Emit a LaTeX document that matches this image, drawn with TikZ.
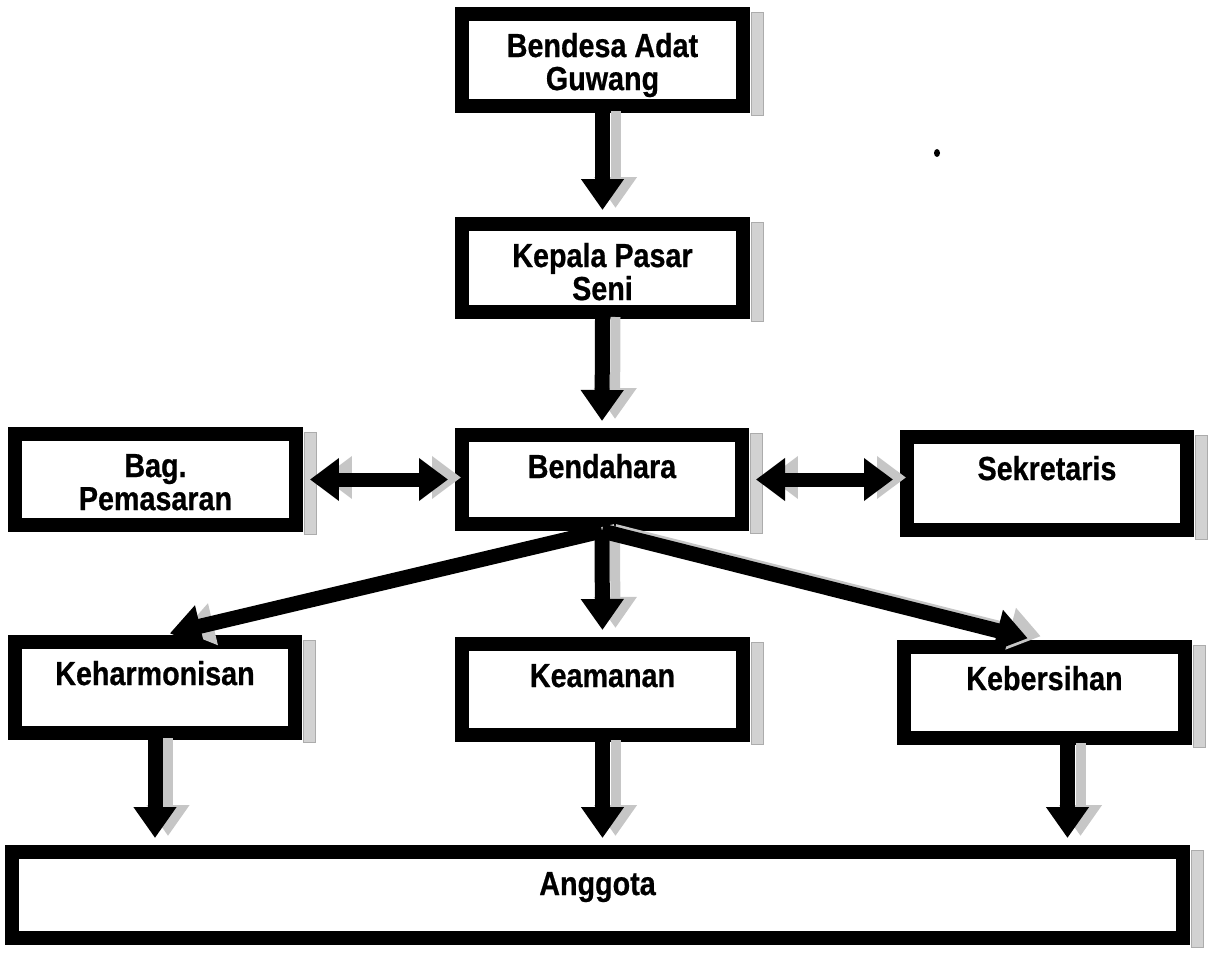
\documentclass[tikz,border=0pt]{standalone}
\usepackage{fontspec}
\setmainfont{Liberation Sans}
\newfontfamily\orgfont[FakeStretch=0.86,BoldFeatures={FakeBold=0.6}]{Liberation Sans}
\usetikzlibrary{arrows.meta}
\tikzset{
  orgnode/.style={draw, line width=0.28cm, inner sep=0pt, fill=white,
    font=\orgfont\fontsize{19}{18.8}\selectfont\bfseries},
  boxshadow/.style={fill=gray!35, draw=gray!65, line width=0.5pt},
  arr/.style={line width=0.3cm, -{Triangle[width=0.82cm,length=0.62cm]}, shorten >=0.14cm},
  darr/.style={line width=0.28cm, {Triangle[width=0.82cm,length=0.58cm]}-{Triangle[width=0.82cm,length=0.58cm]},
    shorten >=0.14cm, shorten <=0.14cm},
  ashadow/.style={draw=gray!45, line width=0.2cm, transform canvas={shift={(0.26cm,0.04cm)}}}
}
\newcommand\orgbox[6]{%
  \pgfmathsetmacro\obw{(#4-#2-14)*0.02}%
  \pgfmathsetmacro\obh{(#5-#3-14)*0.02}%
  \fill[boxshadow] (#4+1,#3+5) rectangle (#4+13,#5+2);
  \node[orgnode] (#1) at ({(#2+#4)/2},{(#3+#5)/2})
    {\parbox[c][\obh cm][t]{\obw cm}{\centering\rule{0pt}{24.5pt}#6}};
}
\begin{document}
\begin{tikzpicture}[x=0.02cm,y=-0.02cm]
\useasboundingbox (0,0) rectangle (1211,953);

% boxes
\orgbox{bendesa}{455}{7}{750}{113}{Bendesa Adat\\Guwang}
\orgbox{kepala}{455}{217}{750}{319}{Kepala Pasar\\Seni}
\orgbox{bag}{8}{427}{303}{532}{Bag.\\Pemasaran}
\orgbox{bendahara}{455}{428}{749}{531}{Bendahara}
\orgbox{sekretaris}{900}{430}{1194}{537}{Sekretaris}
\orgbox{keharmonisan}{8}{635}{302}{740}{Keharmonisan}
\orgbox{keamanan}{455}{637}{750}{742}{Keamanan}
\orgbox{kebersihan}{897}{640}{1192}{745}{Kebersihan}
\orgbox{anggota}{5}{845}{1190}{945}{Anggota}

% arrow shadows
\begin{scope}
\draw[arr, ashadow] (bendesa.south) -- (kepala.north);
\draw[arr, ashadow] (kepala.south) -- (bendahara.north);
\draw[arr, ashadow] (bendahara.south) -- (keamanan.north);
\draw[arr, ashadow] (bendahara.south) -- ([xshift=0.16cm]keharmonisan.north);
\draw[arr, ashadow] (bendahara.south) -- ([xshift=-0.2cm]kebersihan.north);
\draw[darr, ashadow] (bag.east) -- (bendahara.west);
\draw[darr, ashadow] (bendahara.east) -- (sekretaris.west |- bendahara.east);
\draw[arr, ashadow] (keharmonisan.south) -- (keharmonisan.south |- anggota.north);
\draw[arr, ashadow] (keamanan.south) -- (keamanan.south |- anggota.north);
\draw[arr, ashadow] ([xshift=0.46cm]kebersihan.south) -- ([xshift=0.46cm]kebersihan.south |- anggota.north);
\end{scope}

% arrows
\draw[arr] (bendesa.south) -- (kepala.north);
\draw[arr] (kepala.south) -- (bendahara.north);
\draw[arr] (bendahara.south) -- (keamanan.north);
\draw[arr] (bendahara.south) -- ([xshift=0.16cm]keharmonisan.north);
\draw[arr] (bendahara.south) -- ([xshift=-0.2cm]kebersihan.north);
\draw[darr] (bag.east) -- (bendahara.west);
\draw[darr] (bendahara.east) -- (sekretaris.west |- bendahara.east);
\draw[arr] (keharmonisan.south) -- (keharmonisan.south |- anggota.north);
\draw[arr] (keamanan.south) -- (keamanan.south |- anggota.north);
\draw[arr] ([xshift=0.46cm]kebersihan.south) -- ([xshift=0.46cm]kebersihan.south |- anggota.north);

% stray mark
\fill (937,153) ellipse [x radius=3, y radius=4];
\end{tikzpicture}
\end{document}
